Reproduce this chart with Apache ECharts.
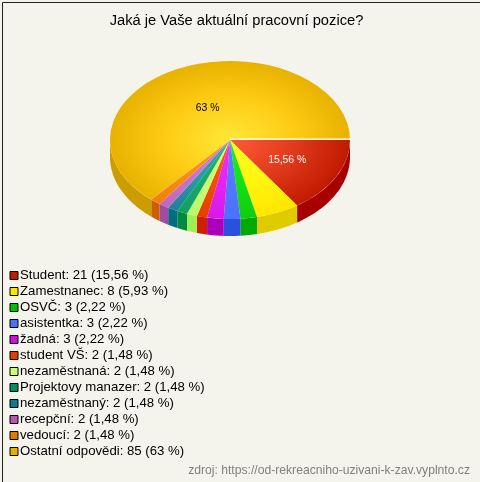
<!DOCTYPE html>
<html><head><meta charset="utf-8">
<style>html,body{margin:0;padding:0;background:#f5f4ec}#c{width:480px;height:482px}</style>
<script src="https://cdn.jsdelivr.net/npm/echarts@6/dist/echarts.min.js"></script>
</head><body><div id="c"></div>
<script>
const categories = ['Student','Zamestnanec','OSVČ','asistentka','žadná','student VŠ','nezaměstnaná','Projektovy manazer','nezaměstnaný','recepční','vedoucí','Ostatní odpovědi'];
const values = [21,8,3,3,3,2,2,2,2,2,2,85];
const percentLabels = ['15,56','5,93','2,22','2,22','2,22','1,48','1,48','1,48','1,48','1,48','1,48','63'];
const legendColors = ['#c01a00','#ffe600','#00c000','#4a70ff','#cc10dd','#e63c00','#c8ff70','#009060','#107a90','#b858b0','#e67800','#e6b000'];
const innerColors = ['#ff5a38','#ffff20','#20f020','#5c80ff','#f030ff','#ff5a18','#d8ff80','#20b070','#30a0b0','#d080d8','#ff9a20','#ffe838'];
const midColors = ['#e03a1c','#fff510','#14e014','#5378ff','#e424f4','#f44c0c','#c8fc74','#18a868','#289ca4','#c874cc','#f88c18','#fdcb14'];
const edgeColors = ['#c01a00','#ffe600','#10cc10','#4a70ff','#d818e8','#e83c00','#b8f868','#10a060','#208098','#c068c0','#f08010','#e8b200'];
const sideColors = ['#a80000','#e0cb00','#00aa00','#2a50dd','#aa00bb','#cc2000','#a0ee55','#008844','#006e80','#a04ca0','#cc6000','#cc9c00'];

const CX=230, CY=140, RX=120, RY=79, DEPTH=17;
const total = values.reduce((a,b)=>a+b,0);
const nameOf = i => `${categories[i]}: ${values[i]} (${percentLabels[i]} %)`;
const RAD = Math.PI/180;
const degOf = i => Math.round(values[i]/total*360);

function slice(i){
  let before=0; for(let k=0;k<i;k++) before+=degOf(k);
  const a0=before*RAD, a1=(i===values.length-1?360:before+degOf(i))*RAD;
  const children=[];
  const s0=Math.min(a0,Math.PI), s1=Math.min(a1,Math.PI);
  if(s1>s0){
    const pts=[], n=40;
    for(let k=0;k<=n;k++){const t=s0+(s1-s0)*k/n;pts.push([CX+RX*Math.cos(t),CY+RY*Math.sin(t)]);}
    for(let k=n;k>=0;k--){const t=s0+(s1-s0)*k/n;pts.push([CX+RX*Math.cos(t),CY+DEPTH+RY*Math.sin(t)]);}
    children.push({type:'polygon',z2:1,shape:{points:pts},style:{fill:sideColors[i]}});
  }
  children.push({type:'sector',z2:2,originX:CX,originY:CY,scaleY:RY/RX,
    shape:{cx:CX,cy:CY,r0:0,r:RX,startAngle:a0,endAngle:a1,clockwise:true},
    style:{fill:{type:'radial',x:CX,y:CY,r:RX,global:true,colorStops:[{offset:0,color:innerColors[i]},{offset:0.55,color:midColors[i]},{offset:1,color:edgeColors[i]}]}}});
  if(i===0){
    children.push({type:'line',z2:3,shape:{x1:CX,y1:CY-0.75,x2:CX+RX+1,y2:CY-0.75},style:{stroke:'#fff',lineWidth:1.5}});
  }
  if(values[i]>=20){
    const m=(a0+a1)/2, q=values[i]>50?0.45:0.54;
    children.push({type:'text',z2:5,x:CX+RX*q*Math.cos(m),y:CY+RY*q*Math.sin(m),
      style:{text:percentLabels[i]+' %',fill:values[i]>50?'#000':'#fff',font:'10.4px "Liberation Sans"',align:'center',verticalAlign:'middle'}});
  }
  return {type:'group',children};
}

const series = categories.map((c,i)=>({
  type:'custom',name:nameOf(i),coordinateSystem:'none',silent:true,animation:false,
  itemStyle:{color:legendColors[i]},data:[values[i]],
  renderItem:()=>slice(i)
}));

const chart = echarts.init(document.getElementById('c'),null,{renderer:'canvas'});
chart.setOption({
  animation:false,backgroundColor:'#f5f4ec',
  title:{text:'Jaká je Vaše aktuální pracovní pozice?',left:236.5,top:13,padding:0,textAlign:'center',
    textStyle:{fontFamily:'"Liberation Sans"',fontSize:14.7,fontWeight:'normal',color:'#000'}},
  legend:{orient:'vertical',left:9.5,top:269,itemWidth:8,itemHeight:8,itemGap:3,padding:0,selectedMode:false,icon:'rect',
    data:categories.map((c,i)=>nameOf(i)),
    itemStyle:{borderColor:'#000',borderWidth:1},
    textStyle:{fontFamily:'"Liberation Sans"',fontSize:13.2,color:'#000',padding:[0,0,0,-3],lineHeight:13}},
  graphic:[
    {type:'text',right:10,top:465,style:{text:'zdroj: https://od-rekreacniho-uzivani-k-zav.vyplnto.cz',fill:'#808080',font:'12.15px "Liberation Sans"'}},
    {type:'rect',left:0,top:0,shape:{x:0.5,y:0.5,width:479,height:481},style:{fill:'none',stroke:'#222',lineWidth:1}}
  ],
  series
});
</script></body></html>
